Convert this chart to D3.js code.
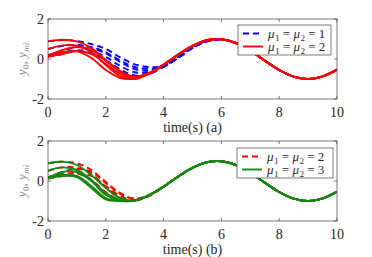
<!DOCTYPE html>
<html>
<head>
<meta charset="utf-8">
<script src="https://cdn.jsdelivr.net/npm/d3@7/dist/d3.min.js"></script>
<style>
  body { margin: 0; background: #fff; }
  svg { display: block; }
  text { font-family: "Liberation Serif", "DejaVu Serif", serif; fill: #262626; }
</style>
</head>
<body>
<svg id="chart" width="372" height="257"></svg>
<script>
"use strict";

// time grid (s)
const time = [0, 0.5, 1, 1.5, 2, 2.5, 3, 3.5, 4, 4.5, 5, 5.5, 6, 6.5, 7, 7.5, 8, 8.5, 9, 9.5, 10];
const xTicks = [0, 2, 4, 6, 8, 10];
const yTicks = [-2, 0, 2];

const yRef = [0.91, 0.59, 0.14, -0.35, -0.76, -0.98, -0.96, -0.70, -0.28, 0.22, 0.66, 0.94,
              0.99, 0.80, 0.41, -0.08, -0.55, -0.88, -1.0, -0.87, -0.53];

// followers, mu1 = mu2 = 1 (t = 0 .. 6), afterwards on y0
const mu1 = [
  [0.88, 0.95, 0.90, 0.75, 0.50, 0.08, -0.27, -0.40, -0.35, 0.05, 0.55, 0.88, 0.98],
  [0.50, 0.65, 0.70, 0.55, 0.28, -0.15, -0.50, -0.58, -0.40, 0.08, 0.58, 0.90, 0.98],
  [0.20, 0.35, 0.42, 0.28, -0.05, -0.52, -0.82, -0.75, -0.38, 0.12, 0.60, 0.92, 0.99],
  [0.12, 0.25, 0.42, 0.40, 0.10, -0.35, -0.66, -0.66, -0.36, 0.10, 0.58, 0.90, 0.98],
  [0.15, 0.42, 0.60, 0.60, 0.33, -0.08, -0.40, -0.50, -0.38, 0.05, 0.55, 0.88, 0.98]
];

// followers, mu1 = mu2 = 2 (t = 0 .. 4)
const mu2 = [
  [0.88, 0.96, 0.88, 0.55, -0.05, -0.60, -0.90, -0.75, -0.30],
  [0.50, 0.68, 0.66, 0.35, -0.30, -0.85, -1.00, -0.72, -0.28],
  [0.20, 0.35, 0.38, 0.05, -0.55, -0.95, -0.98, -0.70, -0.28],
  [0.12, 0.25, 0.40, 0.25, -0.25, -0.75, -0.95, -0.72, -0.28],
  [0.15, 0.45, 0.60, 0.45, -0.10, -0.65, -0.88, -0.70, -0.28]
];

// followers, mu1 = mu2 = 3 (t = 0 .. 4)
const mu3 = [
  [0.88, 0.97, 0.80, 0.30, -0.35, -0.85, -0.98, -0.72, -0.28],
  [0.52, 0.68, 0.55, 0.05, -0.60, -0.95, -0.98, -0.71, -0.28],
  [0.20, 0.30, 0.25, -0.25, -0.85, -1.00, -0.98, -0.70, -0.28],
  [0.12, 0.25, 0.20, -0.35, -0.92, -1.00, -0.97, -0.70, -0.28],
  [0.15, 0.45, 0.45, 0.00, -0.70, -0.98, -0.98, -0.71, -0.28]
];

const BLUE = "#0000ff", RED = "#ff0000", GREEN = "#118811";

const svg = d3.select("#chart");
const x = d3.scaleLinear().domain([0, 10]).range([48, 337]);

// follower values glued onto the leader tail
function full(early) {
  return early.concat(yRef.slice(early.length)).map((v, i) => [time[i], v]);
}

// mu_1 = mu_2 = n as svg text
function muText(sel, n) {
  sel.append("tspan").attr("font-style", "italic").text("μ");
  sel.append("tspan").attr("font-size", 8.5).attr("dx", 0.8).attr("dy", 2.5).text("1");
  sel.append("tspan").attr("dy", -2.5).text(" = ");
  sel.append("tspan").attr("font-style", "italic").text("μ");
  sel.append("tspan").attr("font-size", 8.5).attr("dx", 0.8).attr("dy", 2.5).text("2");
  sel.append("tspan").attr("dy", -2.5).text(" = " + n);
}

function drawPanel(top, bottom, groups, legendBox, label, id) {
  const y = d3.scaleLinear().domain([-2, 2]).range([bottom, top]);
  const g = svg.append("g");

  g.append("clipPath").attr("id", "clip" + id)
    .append("rect").attr("x", x(0)).attr("y", top).attr("width", x(10) - x(0)).attr("height", bottom - top);

  const line = d3.line()
    .x(d => x(d[0]))
    .y(d => y(d[1]))
    .curve(d3.curveCatmullRom.alpha(0.5));

  const plot = g.append("g").attr("clip-path", `url(#clip${id})`);
  groups.forEach(gr => {
    plot.selectAll(null)
      .data(gr.data.map(full))
      .enter()
      .append("path")
      .attr("d", line)
      .attr("fill", "none")
      .attr("stroke", gr.color)
      .attr("stroke-width", 1.9)
      .attr("stroke-dasharray", gr.dash ? "6,4" : null);
  });

  // box + inward ticks (matlab style)
  g.append("rect")
    .attr("x", x(0)).attr("y", top)
    .attr("width", x(10) - x(0)).attr("height", bottom - top)
    .attr("fill", "none").attr("stroke", "#444").attr("stroke-width", 0.7);

  const tl = 3;
  g.selectAll("line.xt").data(xTicks).enter().append("line")
    .attr("x1", d => x(d)).attr("x2", d => x(d)).attr("y1", bottom).attr("y2", bottom - tl)
    .attr("stroke", "#444").attr("stroke-width", 0.7);
  g.selectAll("line.xt2").data(xTicks).enter().append("line")
    .attr("x1", d => x(d)).attr("x2", d => x(d)).attr("y1", top).attr("y2", top + tl)
    .attr("stroke", "#444").attr("stroke-width", 0.7);
  g.selectAll("line.yt").data(yTicks).enter().append("line")
    .attr("x1", x(0)).attr("x2", x(0) + tl).attr("y1", d => y(d)).attr("y2", d => y(d))
    .attr("stroke", "#444").attr("stroke-width", 0.7);
  g.selectAll("line.yt2").data(yTicks).enter().append("line")
    .attr("x1", x(10)).attr("x2", x(10) - tl).attr("y1", d => y(d)).attr("y2", d => y(d))
    .attr("stroke", "#444").attr("stroke-width", 0.7);

  g.selectAll("text.xl").data(xTicks).enter().append("text")
    .attr("x", d => x(d)).attr("y", bottom + 18)
    .attr("text-anchor", "middle").attr("font-size", 14)
    .text(d => d);
  g.selectAll("text.yl").data(yTicks).enter().append("text")
    .attr("x", x(0) - 4).attr("y", d => y(d) + 5)
    .attr("text-anchor", "end").attr("font-size", 14)
    .text(d => d < 0 ? "-" + Math.abs(d) : d);

  g.append("text")
    .attr("x", (x(0) + x(10)) / 2).attr("y", bottom + 33)
    .attr("text-anchor", "middle").attr("font-size", 14)
    .text(label);

  // y label
  const yl = g.append("text")
    .attr("transform", `translate(26,${(top + bottom) / 2}) rotate(-90)`)
    .attr("text-anchor", "middle").attr("font-size", 13)
    .style("fill", "#888");
  yl.append("tspan").attr("font-style", "italic").text("y");
  yl.append("tspan").attr("font-size", 9).attr("dx", 0.5).attr("dy", 2.5).text("0");
  yl.append("tspan").attr("dy", -2.5).text(", ");
  yl.append("tspan").attr("font-style", "italic").text("y");
  yl.append("tspan").attr("font-size", 9).attr("font-style", "italic").attr("dx", 0.5).attr("dy", 2.5).text("mi");

  // legend
  const lg = g.append("g");
  lg.append("rect")
    .attr("x", legendBox.x).attr("y", legendBox.y).attr("width", legendBox.w).attr("height", 30)
    .attr("fill", "#fff").attr("stroke", "#444").attr("stroke-width", 0.7);
  groups.forEach((gr, i) => {
    const ly = legendBox.y + 8.5 + i * 13;
    lg.append("line")
      .attr("x1", legendBox.x + 5).attr("x2", legendBox.x + 25)
      .attr("y1", ly).attr("y2", ly)
      .attr("stroke", gr.color).attr("stroke-width", 1.9)
      .attr("stroke-dasharray", gr.dash ? "6,4" : null);
    lg.append("text")
      .attr("x", legendBox.x + 30).attr("y", ly + 4.5)
      .attr("font-size", 13)
      .call(muText, gr.n);
  });
}

drawPanel(19, 99, [
  { data: mu1, color: BLUE, dash: true, n: 1 },
  { data: mu2, color: RED, dash: false, n: 2 }
], { x: 238, y: 25, w: 93 }, "time(s) (a)", "a");

drawPanel(141, 221, [
  { data: mu2, color: RED, dash: true, n: 2 },
  { data: mu3, color: GREEN, dash: false, n: 3 }
], { x: 237, y: 148, w: 96 }, "time(s) (b)", "b");
</script>
</body>
</html>
